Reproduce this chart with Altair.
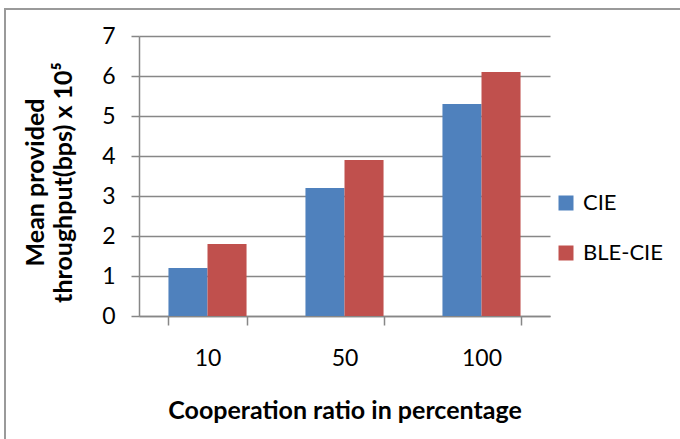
import altair as alt
import pandas as pd

categories = ["10", "50", "100"]
series_names = ["CIE", "BLE-CIE"]
cie_values = [1.2, 3.2, 5.3]
ble_cie_values = [1.8, 3.9, 6.1]
y_ticks = [0, 1, 2, 3, 4, 5, 6, 7]
colors = ["#4F81BD", "#C0504D"]

rows = []
for c, v in zip(categories, cie_values):
    rows.append({"ratio": c, "series": "CIE", "value": v})
for c, v in zip(categories, ble_cie_values):
    rows.append({"ratio": c, "series": "BLE-CIE", "value": v})
df = pd.DataFrame(rows)

FONT = "Lato"
GRID = "#878787"

bars = alt.Chart(df).mark_bar().encode(
    x=alt.X(
        "ratio:N",
        sort=categories,
        scale=alt.Scale(paddingInner=0.43, paddingOuter=0.215),
        axis=alt.Axis(
            title="Cooperation ratio in percentage",
            labelAngle=0,
            tickBand="extent",
            tickSize=9,
            tickColor=GRID,
            tickWidth=1.5,
            domainColor=GRID,
            domainWidth=1.5,
            labelPadding=22,
            titlePadding=28,
            grid=False,
        ),
    ),
    xOffset=alt.XOffset("series:N", sort=series_names, scale=alt.Scale(paddingInner=0, paddingOuter=0)),
    y=alt.Y(
        "value:Q",
        scale=alt.Scale(domain=[0, 7], nice=False),
        axis=alt.Axis(
            title=["Mean provided", "throughput(bps) x 10⁵"],
            values=y_ticks,
            tickSize=8,
            tickColor=GRID,
            tickWidth=1.5,
            domainColor=GRID,
            domainWidth=1.5,
            gridColor=GRID,
            gridWidth=1.5,
            labelPadding=16,
            titlePadding=25,
            titleLineHeight=28,
            titleY=146,
        ),
    ),
    color=alt.Color(
        "series:N",
        sort=series_names,
        scale=alt.Scale(domain=series_names, range=colors),
        legend=alt.Legend(
            title=None,
            orient="none",
            legendX=416,
            legendY=156,
            symbolType="square",
            symbolSize=225,
            symbolStrokeWidth=0,
            rowPadding=28,
            labelOffset=6,
        ),
    ),
)

left_border = alt.Chart(df).mark_rule(color="#9A9A9A", strokeWidth=2).encode(
    x=alt.value(-134), y=alt.value(-27), y2=alt.value(420)
)
top_border = alt.Chart(df).mark_rule(color="#9A9A9A", strokeWidth=2).encode(
    x=alt.value(-135), x2=alt.value(560), y=alt.value(-27)
)

chart = (
    alt.layer(left_border, top_border, bars)
    .properties(
        width=411,
        height=280,
        autosize=alt.AutoSizeParams(type="none"),
        padding={"left": 139, "top": 36, "right": 130, "bottom": 123},
        background="white",
    )
    .configure_view(stroke=None)
    .configure_axis(
        labelFont=FONT,
        labelFontSize=23,
        labelColor="black",
        titleFont=FONT,
        titleFontSize=25,
        titleFontWeight="bold",
        titleColor="black",
    )
    .configure_legend(labelFont=FONT, labelFontSize=22, labelColor="black")
)

chart.save("out.html", embed_options={"renderer": "svg", "actions": False})
